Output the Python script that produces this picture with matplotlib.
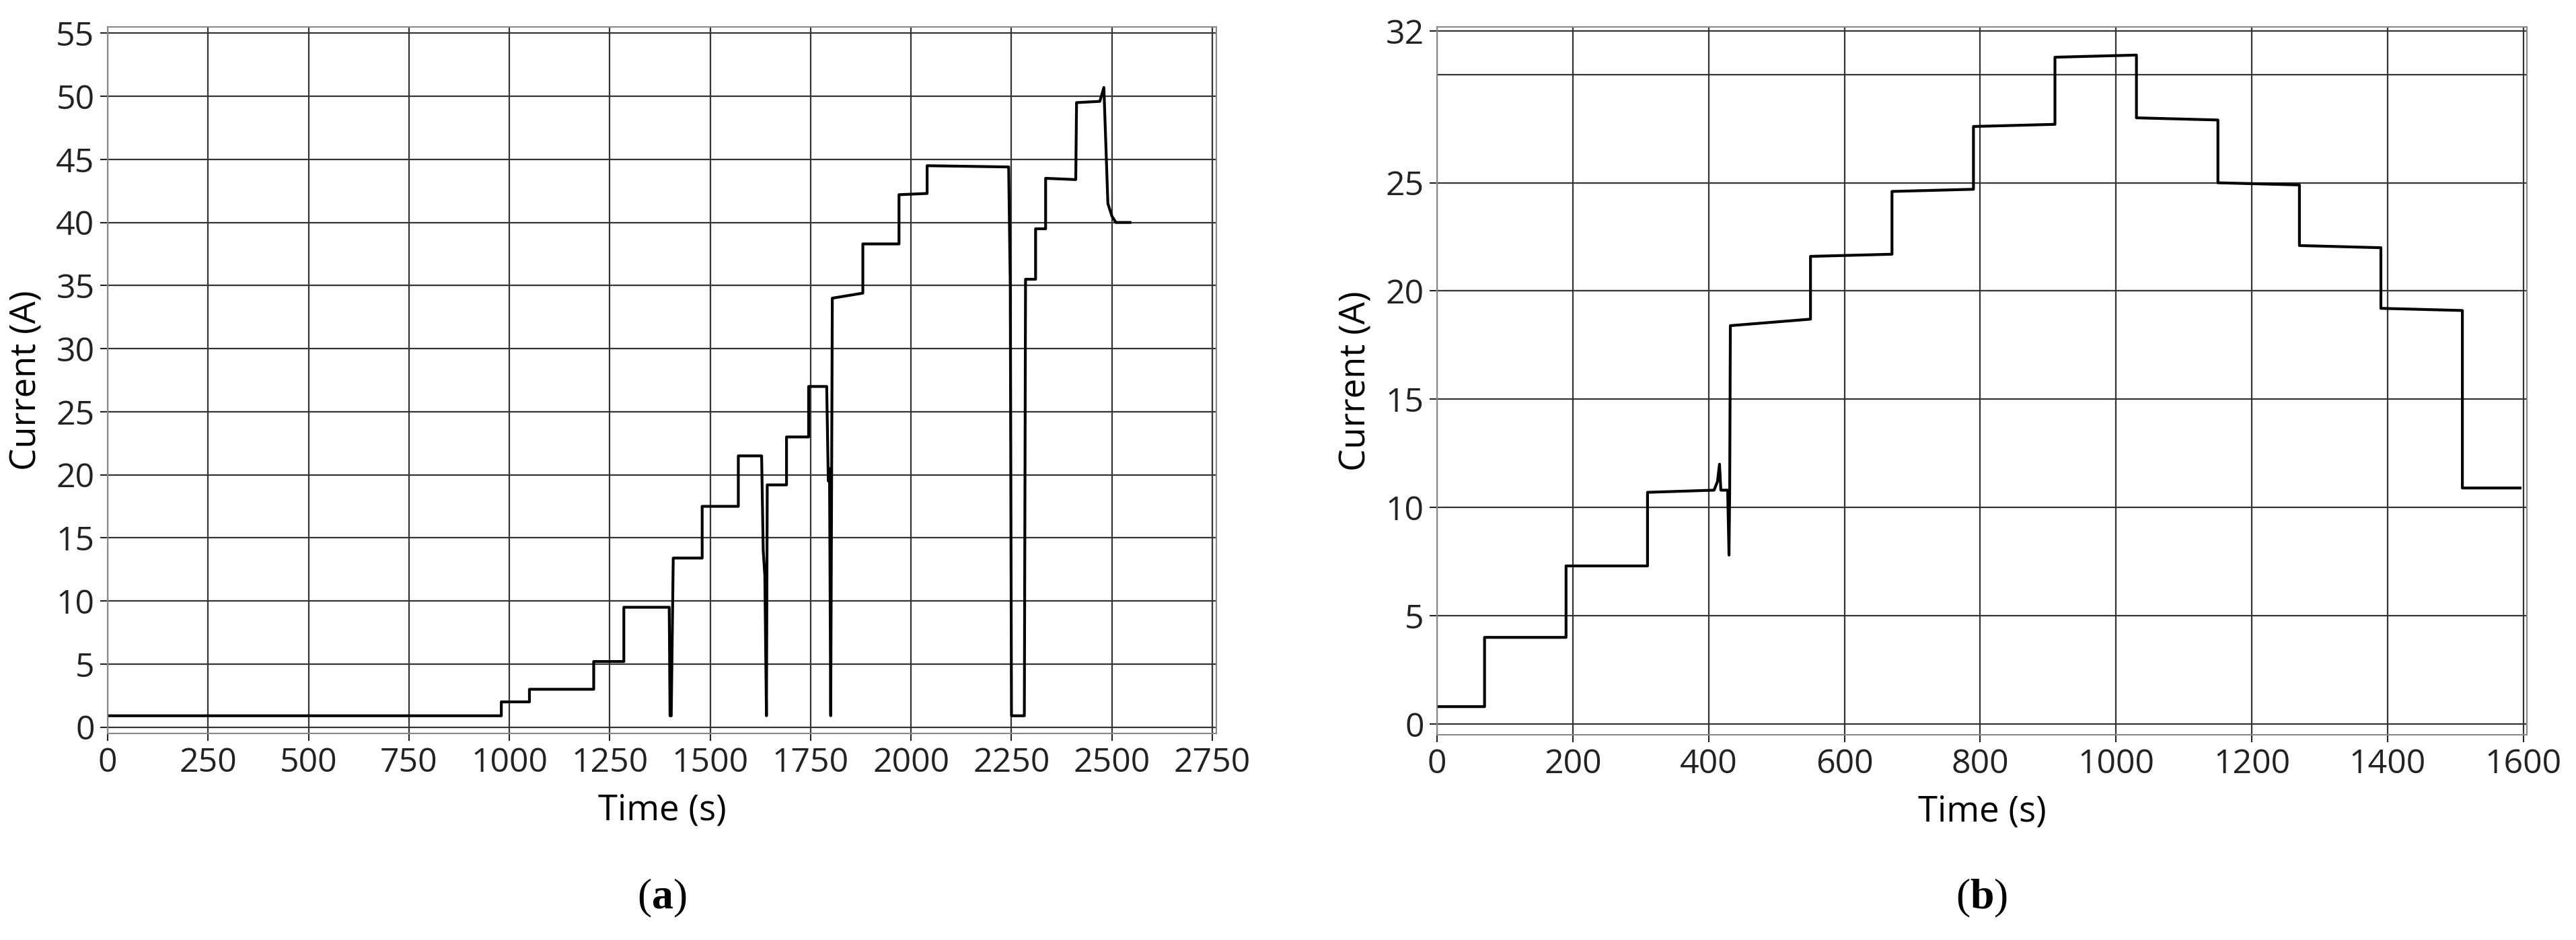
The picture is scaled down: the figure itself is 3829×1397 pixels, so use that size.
import matplotlib
matplotlib.use("Agg")
import matplotlib.pyplot as plt

# Panel (a) current trace (time s, current A)
time_a = [0, 980, 980, 1050, 1050, 1210, 1210, 1285, 1285, 1398, 1400, 1403, 1408, 1410, 1480, 1480,
          1570, 1570, 1628, 1632, 1636, 1640, 1642, 1690, 1690, 1745, 1745, 1790, 1794, 1797, 1800, 1804,
          1880, 1880, 1970, 1970, 2040, 2040, 2243, 2247, 2250, 2282, 2285, 2310, 2310, 2335, 2335, 2410,
          2412, 2470, 2480, 2490, 2500, 2510, 2545]
curr_a = [0.9, 0.9, 2.0, 2.0, 3.0, 3.0, 5.2, 5.2, 9.5, 9.5, 0.9, 0.9, 13.4, 13.4, 13.4, 17.5,
          17.5, 21.5, 21.5, 14.0, 12.0, 0.9, 19.2, 19.2, 23.0, 23.0, 27.0, 27.0, 19.5, 20.5, 0.9, 34.0,
          34.4, 38.3, 38.3, 42.2, 42.3, 44.5, 44.4, 35.0, 0.9, 0.9, 35.5, 35.5, 39.5, 39.5, 43.5, 43.4,
          49.5, 49.6, 50.7, 41.5, 40.5, 40.0, 40.0]

# Panel (b) current trace
time_b = [0, 70, 70, 190, 190, 310, 310, 408, 413, 416, 418, 428, 430, 431, 432, 550, 550, 670, 670,
          790, 790, 910, 910, 1030, 1030, 1150, 1150, 1270, 1270, 1390, 1390, 1510, 1510, 1595]
curr_b = [0.8, 0.8, 4.0, 4.0, 7.3, 7.3, 10.7, 10.8, 11.2, 12.0, 10.8, 10.8, 7.8, 10.8, 18.4, 18.7, 21.6, 21.7, 24.6,
          24.7, 27.6, 27.7, 30.8, 30.9, 28.0, 27.9, 25.0, 24.9, 22.1, 22.0, 19.2, 19.1, 10.9, 10.9]

xticks_a = [0, 250, 500, 750, 1000, 1250, 1500, 1750, 2000, 2250, 2500, 2750]
yticks_a = [0, 5, 10, 15, 20, 25, 30, 35, 40, 45, 50, 55]
xticks_b = [0, 200, 400, 600, 800, 1000, 1200, 1400, 1600]
yticks_b = [0, 5, 10, 15, 20, 25, 32]
ygrid_b = [0, 5, 10, 15, 20, 25, 30, 32]

plt.rcParams['font.family'] = ['Open Sans', 'DejaVu Sans']
plt.rcParams['mathtext.fontset'] = 'custom'
plt.rcParams['mathtext.rm'] = 'Liberation Serif'
plt.rcParams['mathtext.bf'] = 'Liberation Serif:bold'
fig = plt.figure(figsize=(38.30, 13.97), dpi=100)
W, H = 3830, 1397

def setup(ax, xt, yt, yg, xlim, ylim):
    ax.set_xlim(*xlim)
    ax.set_ylim(*ylim)
    ax.set_xticks(xt)
    ax.set_yticks(yt)
    ax.set_yticks(yg, minor=True)
    ax.tick_params(which='minor', length=0)
    ax.grid(True, which='both', color='#333333', linewidth=1.6)
    ax.set_axisbelow(True)
    ax.tick_params(labelsize=36, length=8, width=1.5, colors='#222222', pad=6)
    for s in ax.spines.values():
        s.set_color('#888888')
        s.set_linewidth(1.5)
    ax.set_xlabel('Time (s)', fontsize=38, labelpad=14)
    ax.set_ylabel('Current (A)', fontsize=38, labelpad=12)

ax1 = fig.add_axes([160 / W, 1 - 1090 / H, (1808 - 160) / W, (1090 - 40) / H])
ax1.plot(time_a, curr_a, color='black', linewidth=3)
setup(ax1, xticks_a, yticks_a, yticks_a, (0, 2760), (-0.5, 55.5))

ax2 = fig.add_axes([2136 / W, 1 - 1092 / H, (3756 - 2136) / W, (1092 - 40) / H])
ax2.plot(time_b, curr_b, color='black', linewidth=3)
setup(ax2, xticks_b, yticks_b, ygrid_b, (0, 1605), (-0.5, 32.2))

fig.text((160 + 1808) / 2 / W, 1 - 1335 / H, r'($\mathbf{a}$)', fontsize=46,
         family='Liberation Serif', ha='center', va='center')
fig.text((2136 + 3756) / 2 / W, 1 - 1335 / H, r'($\mathbf{b}$)', fontsize=46,
         family='Liberation Serif', ha='center', va='center')

fig.savefig('out.png', dpi=100, facecolor='white')
